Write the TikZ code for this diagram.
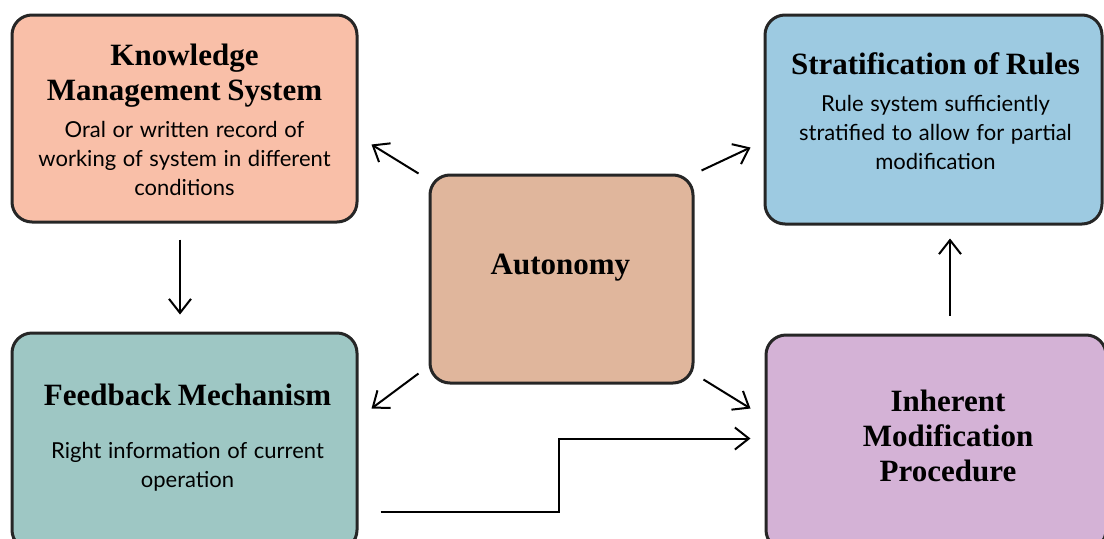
\documentclass[tikz,border=0pt]{standalone}
\usepackage{fontspec}
\setmainfont{Liberation Serif}
\newfontfamily\gillfont{Lato}
\usetikzlibrary{arrows.meta}
\definecolor{peach}{HTML}{F9BFA8}
\definecolor{skyblue}{HTML}{9DCAE1}
\definecolor{seafoam}{HTML}{9EC7C4}
\definecolor{tan}{HTML}{E0B69C}
\definecolor{lilac}{HTML}{D4B2D6}
\newcommand{\cardtitle}[1]{{\fontsize{15.5pt}{17.5pt}\selectfont\bfseries #1\par}}
\newcommand{\cardbody}[1]{{\gillfont\fontsize{11pt}{14.5pt}\selectfont #1\par}}

\begin{document}
\begin{tikzpicture}[x=0.5pt,y=0.5pt,
  card/.style={draw=black!85, line width=1.5pt, rounded corners=10pt},
  txt/.style={text width=170pt, align=center, inner sep=0pt},
  arr/.style={-{Straight Barb[length=7pt,width=11pt]}, line width=1pt}]
  \useasboundingbox (0,0) rectangle (1104,538);
  % boxes
  \node[card, fill=peach, minimum width=172.5pt, minimum height=103.5pt] (kms) at (184.5,419.5) {};
  \node[card, fill=skyblue, minimum width=168.5pt, minimum height=104.5pt] (strat) at (933.5,418.5) {};
  \node[card, fill=seafoam, minimum width=172.5pt, minimum height=108.5pt] (fb) at (184.5,96.5) {};
  \node[card, fill=tan, minimum width=131.5pt, minimum height=104pt] (auto) at (561.5,259) {};
  \node[card, fill=lilac, minimum width=170pt, minimum height=107.5pt] (imp) at (936,95.5) {};
  % texts
  \node[txt] (kmsText) at ([shift={(0,-1.5)}]kms.center) {\cardtitle{Knowledge\\Management System}\vspace{4pt}\cardbody{Oral or written record of\\working of system in different\\conditions}};
  \node[txt] (stratText) at ([shift={(2,8.5)}]strat.center) {\cardtitle{Stratification of Rules}\vspace{4pt}\cardbody{Rule system sufficiently\\stratified to allow for partial\\modification}};
  \node[txt] (fbText) at ([shift={(3,3.5)}]fb.center) {\cardtitle{Feedback Mechanism}\vspace{12pt}\cardbody{Right information of current\\operation}};
  \node[txt] (autoText) at ([shift={(-1,11)}]auto.center) {\cardtitle{Autonomy}};
  \node[txt] (impText) at ([shift={(12,6.5)}]imp.center) {\cardtitle{Inherent\\Modification\\Procedure}};
  % arrows
  \draw[arr] ([shift={(-10,0)}]auto.north west) -- ([shift={(13,-26)}]kms.east);
  \draw[arr] ([shift={(7,3)}]auto.north east) -- ([shift={(-13,-28)}]strat.west);
  \draw[arr] ([shift={(-10,11)}]auto.south west) -- ([shift={(13,-77)}]fb.north east);
  \draw[arr] ([shift={(9,5)}]auto.south east) -- ([shift={(-14,-75)}]imp.north west);
  \draw[arr] ([shift={(-4.5,-16)}]kms.south) -- ([shift={(-4.5,17)}]fb.north);
  \draw[arr] ([shift={(14,18)}]imp.north) -- ([shift={(16.5,-13)}]strat.south);
  \draw[arr] ([shift={(22,-180)}]fb.north east) -- ++(178,0) |- ([shift={(-14,-105)}]imp.north west);
\end{tikzpicture}
\end{document}
